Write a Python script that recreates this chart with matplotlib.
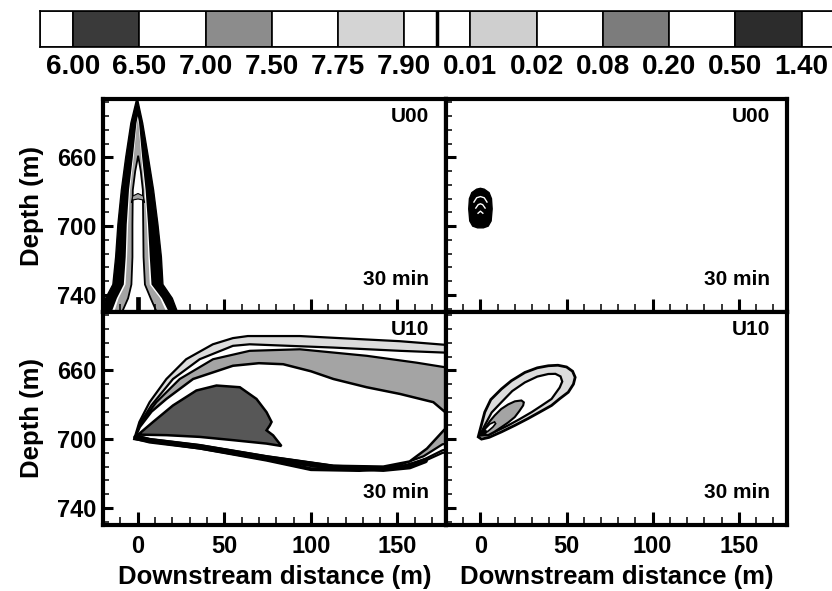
import matplotlib.pyplot as plt
from matplotlib.ticker import MultipleLocator

plt.rcParams['font.family'] = ['Liberation Sans', 'DejaVu Sans']
plt.rcParams['font.weight'] = 'bold'
plt.rcParams['axes.labelweight'] = 'bold'

# colour key: pH levels (left half) and concentration levels (right half)
key_labels = ['6.00', '6.50', '7.00', '7.50', '7.75', '7.90',
              '0.01', '0.02', '0.08', '0.20', '0.50', '1.40']
key_edges = [-0.5, 0, 1, 2, 3, 4, 5, 5.5, 6, 7, 8, 9, 10, 11, 12]
key_colors = ['white', '#3a3a3a', 'white', '#8c8c8c', 'white', '#d4d4d4', 'white',
              'white', '#cfcfcf', 'white', '#7c7c7c', 'white', '#2c2c2c', 'white']

# shades used inside the panels
c_light = '#dcdcdc'
c_grey = '#a4a4a4'
c_dark = '#575757'

# --- U00, pH (left top): plume rising along x = 0 ---
sp_depth = [750, 742, 734, 718, 699, 679, 660, 640]
sp_outer_l = [-19.5, -18.5, -14.3, -12.7, -11.4, -9.4, -6.9, -3.9]
sp_outer_r = [23.0, 20.0, 14.6, 13.7, 11.7, 9.2, 6.2, 2.9]
sp_outer_top = (-0.3, 625.0)
sp_white_l = [-15.0, -12.0, -8.0, -6.9, -6.3, -5.0, -2.8, -0.7]
sp_white_r = [18.0, 14.0, 8.0, 7.0, 6.0, 4.6, 2.6, 0.8]
sp_white_top = (0.1, 636.0)
sp_grey_l = [-13.5, -11.0, -7.0, -6.1, -5.5, -4.4, -2.3, -0.4]
sp_grey_r = [16.5, 13.0, 7.0, 6.2, 5.3, 4.0, 2.1, 0.5]
sp_grey_top = (0.1, 637.5)
core_depth = [750, 742, 734, 718, 699, 679, 668]
core_l = [-9.0, -5.5, -3.6, -3.0, -3.0, -2.8, -1.4]
core_r = [11.0, 7.5, 4.2, 3.4, 3.2, 3.0, 1.8]
core_top = (0.3, 659.0)
arch_x = [-3.6, -2.8, 0.2, 3.2, 4.0, 3.2, 0.2, -2.8, -3.6]
arch_d = [686.5, 682.5, 681.0, 682.5, 686.5, 684.8, 684.2, 684.8, 686.5]
bar_x = [-1.0, 1.5, 1.5, -1.0]
bar_d = [750, 750, 741, 741]

# --- U00, concentration (right top): small blob ---
blob_x = [-6.2, -6.8, -6.4, -5.0, -2.2, 0.0, 2.2, 5.0, 6.4, 6.8, 6.2, 4.5, 1.7, -1.7, -4.5, -6.2]
blob_d = [697, 690, 684, 680.5, 678.5, 678, 678.5, 680.5, 684, 690, 697, 700, 701, 701, 700, 697]
arcs_x = [[-3.8, -2.2, 0.0, 2.2, 3.8], [-2.7, -1.3, 0.0, 1.3, 2.7], [-1.4, 0.0, 1.4]]
arcs_d = [[686, 683.5, 682.8, 683.5, 686], [689.5, 687.5, 687, 687.5, 689.5], [692.5, 691.3, 692.5]]

# --- U10, pH (left bottom): plume bent downstream ---
p790_x = [-2, 1, 6.9, 16.6, 28, 43.4, 55, 63.6, 93.6, 112.7, 151.4, 176.3, 185,
          185, 176, 165, 150, 128, 100, 74.4, 35.8, 7, -2]
p790_d = [700, 690, 678.5, 665, 653.5, 644.8, 641.2, 640, 640, 641, 643, 645, 645.5,
          707, 708, 713, 717, 718.5, 718, 712.5, 705.5, 701.5, 700]
p775_x = [-1.5, 1.5, 7.9, 20.4, 35.8, 55, 64.7, 112.7, 151.4, 176.3, 185,
          185, 176, 165, 150, 128, 100, 74.4, 35.8, 7, -1.5]
p775_d = [699.5, 690.5, 680.4, 665, 653.5, 645.7, 644.8, 646.7, 648.6, 649.6, 650,
          705, 706.5, 712, 716.5, 718, 717.5, 712, 705, 701, 699.5]
p750_x = [-1, 3, 10.8, 24.3, 43.5, 64.7, 93.6, 132.2, 161, 176.5, 185,
          185, 176, 165, 150, 128, 100, 74.4, 35.8, 7, -1]
p750_d = [699, 689, 678.5, 665, 653.5, 648.6, 647.7, 651.5, 655.5, 658, 658.5,
          702, 703, 710, 715.5, 717.5, 717, 711.5, 704.5, 700.5, 699]
p700_x = [-1, 1.2, 8, 16.6, 32, 55, 70, 84, 100, 113, 132.2, 151.4, 170.7, 177.5,
          177.5, 167, 157, 141.8, 113, 74.4, 35.8, 7, -1]
p700_d = [698, 693, 684, 676.6, 665, 657.3, 655.8, 656.4, 660.5, 665, 669.8, 673.7, 678.5, 684.3,
          694, 705.5, 713, 716, 715.5, 710, 703.5, 700, 698]
p650_x = [-1, 8.9, 20.4, 33.9, 45.5, 59, 68.6, 74.4, 77.3, 76.3, 74.4, 78.2, 83,
          74.4, 55, 35.8, 16.6, 1.2, -1]
p650_d = [698.5, 690, 680.4, 671.7, 668.8, 669.8, 676.6, 684.3, 690, 692, 694.9, 697.8, 704,
          702.6, 700.6, 698.7, 697.7, 697.4, 698.5]
floor_x = [-1, 7, 35.8, 74.4, 113, 141.8, 157, 166]
floor_d = [699, 701, 704.5, 711, 716.5, 717.5, 716, 712.5]

# --- U10, concentration (right bottom) ---
c001_x = [-1.3, 2.5, 6, 12.2, 18, 25.8, 33, 39.4, 45, 50, 53.5, 55, 54, 51, 46, 41.3,
          34, 27.7, 20, 12.2, 5, 0.6, -1.3]
c001_d = [698.7, 684.3, 677, 670.8, 666, 661.2, 658.5, 657.3, 657, 658, 660.5, 664, 668, 672.7, 676.5, 680.4,
          684.5, 688, 692, 695.8, 699, 700, 698.7]
c002_x = [-0.5, 2.5, 6.5, 12.2, 18.5, 25.8, 33, 39.4, 43.5, 46.5, 47.5, 46, 41.3,
          35.5, 29.7, 22.5, 16.1, 9, 4.5, -0.5]
c002_d = [698, 692, 684.5, 678.5, 672, 667, 663.6, 662.1, 662, 663.5, 666.5, 670, 676.6,
          680.5, 684.3, 688.5, 692, 695.5, 697.7, 698]
c008_x = [0.5, 2.5, 5.5, 8.3, 12, 16.1, 20, 23.8, 25.2, 24.8, 22.5, 19.9, 16, 12.2, 8, 4.5, 0.5]
c008_d = [697.5, 693.8, 689.5, 686.2, 682.5, 679.8, 678, 677.5, 678.6, 680.4, 683.8, 687.2, 690.4, 693, 695.8, 697.7, 697.5]
c020_x = [1.0, 3.0, 5.5, 8.2, 8.8, 7.2, 4.5, 2.0, 1.0]
c020_d = [696.6, 693.8, 691.2, 690.0, 691.0, 693.0, 695.3, 696.8, 696.6]
c050_x = [0.8, 1.8, 3.2, 3.6, 2.6, 1.2, 0.8]
c050_d = [696.5, 694.8, 694.8, 696, 697.4, 697.4, 696.5]


def outline(left, right, depth, top):
    xs = list(left) + [top[0]] + list(right[::-1])
    ds = list(depth) + [top[1]] + list(depth[::-1])
    return xs, ds


W, H = 832, 591
fig = plt.figure(figsize=(W / 100, H / 100), dpi=100)


def px_axes(x0, y0, x1, y1):
    return fig.add_axes([x0 / W, 1 - y1 / H, (x1 - x0) / W, (y1 - y0) / H])


# colour key
axk = px_axes(40, 11, 832, 47)
widths = [key_edges[i + 1] - key_edges[i] for i in range(len(key_edges) - 1)]
axk.bar(key_edges[:-1], [1] * len(widths), width=widths, align='edge',
        color=key_colors, edgecolor='black', linewidth=1.2)
axk.axvline(5.5, color='black', lw=2.5)
axk.set_xlim(-0.5, 11.46)
axk.set_ylim(0, 1)
axk.set_yticks([])
axk.set_xticks(range(len(key_labels)), key_labels)
axk.tick_params(axis='x', length=0, labelsize=20, pad=5)
for s in axk.spines.values():
    s.set_linewidth(1.2)
axk.spines['right'].set_visible(False)

rows = [(99, 312), (312, 525)]
cols = [(103, 446), (446, 787)]
axes = [[None, None], [None, None]]
for r, (y0, y1) in enumerate(rows):
    for c, (x0, x1) in enumerate(cols):
        ax = px_axes(x0, y0, x1, y1)
        ax.set_xlim(-20, 178)
        ax.set_ylim(750, 626)
        ax.xaxis.set_major_locator(MultipleLocator(50))
        ax.xaxis.set_minor_locator(MultipleLocator(10))
        ax.yaxis.set_major_locator(MultipleLocator(40, offset=20))
        ax.yaxis.set_minor_locator(MultipleLocator(8, offset=4))
        ax.tick_params(which='both', direction='in', top=False, right=False)
        ax.tick_params(axis='x', which='major', length=9.5, width=2.2, pad=7, labelsize=17)
        ax.tick_params(axis='x', which='minor', length=5.5, width=1.1)
        ax.tick_params(axis='y', which='major', length=7, width=2.2, pad=5, labelsize=17)
        ax.tick_params(axis='y', which='minor', length=4.3, width=1.1)
        if r == 0:
            ax.tick_params(axis='x', labelbottom=False)
        else:
            ax.set_xlabel('Downstream distance (m)', fontsize=18.5, labelpad=5)
        if c == 1:
            ax.tick_params(axis='y', labelleft=False)
        else:
            ax.set_ylabel('Depth (m)', fontsize=18.5, labelpad=9)
        for s in ax.spines.values():
            s.set_linewidth(3)
        ax.text(0.95, 0.962, 'U00' if r == 0 else 'U10', transform=ax.transAxes,
                ha='right', va='top', fontsize=15)
        ax.text(0.95, 0.125, '30 min', transform=ax.transAxes,
                ha='right', va='baseline', fontsize=15)
        axes[r][c] = ax

# U00 pH plume
ax = axes[0][0]
xs, ds = outline(sp_outer_l, sp_outer_r, sp_depth, sp_outer_top)
ax.fill(xs, ds, facecolor='black', edgecolor='black', lw=1)
xs, ds = outline(sp_white_l, sp_white_r, sp_depth, sp_white_top)
ax.fill(xs, ds, facecolor='white', edgecolor='none')
xs, ds = outline(sp_grey_l, sp_grey_r, sp_depth, sp_grey_top)
ax.fill(xs, ds, facecolor=c_grey, edgecolor='none')
xs, ds = outline(core_l, core_r, core_depth, core_top)
ax.fill(xs, ds, facecolor='white', edgecolor='black', lw=1.3)
ax.fill(arch_x, arch_d, facecolor=c_grey, edgecolor='black', lw=0.8)
ax.fill(bar_x, bar_d, facecolor='black', edgecolor='black', lw=0.5)

# U00 concentration blob
ax = axes[0][1]
ax.fill(blob_x, blob_d, facecolor='black', edgecolor='black', lw=1)
for ax_, ad_ in zip(arcs_x, arcs_d):
    ax.plot(ax_, ad_, color='white', lw=1)

# U10 pH plume
ax = axes[1][0]
ax.fill(p790_x, p790_d, facecolor=c_light, edgecolor='black', lw=1.6)
ax.fill(p775_x, p775_d, facecolor='white', edgecolor='black', lw=1.6)
ax.fill(p750_x, p750_d, facecolor=c_grey, edgecolor='black', lw=1.6)
ax.fill(p700_x, p700_d, facecolor='white', edgecolor='black', lw=1.8)
ax.fill(p650_x, p650_d, facecolor=c_dark, edgecolor='black', lw=1.8)
ax.plot(floor_x, floor_d, color='black', lw=4, solid_capstyle='round')

# U10 concentration plume
ax = axes[1][1]
ax.fill(c001_x, c001_d, facecolor=c_light, edgecolor='black', lw=2)
ax.fill(c002_x, c002_d, facecolor='white', edgecolor='black', lw=1.6)
ax.fill(c008_x, c008_d, facecolor=c_grey, edgecolor='black', lw=1.5)
ax.fill(c020_x, c020_d, facecolor='white', edgecolor='black', lw=1.2)
ax.fill(c050_x, c050_d, facecolor='black', edgecolor='black', lw=0.8)

fig.savefig('out.png', dpi=100)
